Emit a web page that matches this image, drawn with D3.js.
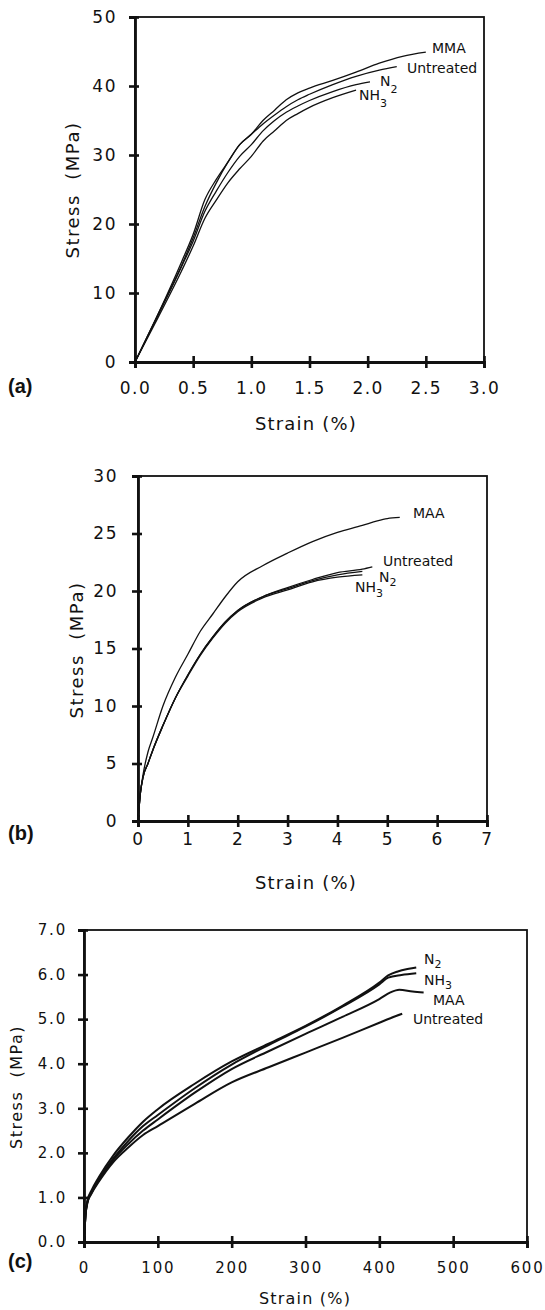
<!DOCTYPE html>
<html lang="en">
<head>
<meta charset="utf-8">
<title>Stress-strain curves</title>
<script src="https://cdn.jsdelivr.net/npm/d3@7/dist/d3.min.js"></script>
<style>
  body { margin: 0; background: #fff; }
  text { font-family: "DejaVu Sans", sans-serif; fill: #111; }
  .lbl { font-size: 14px; }
</style>
</head>
<body>
<script>
// ---- panel (a) ----
var aXTicks = [0, 0.5, 1.0, 1.5, 2.0, 2.5, 3.0];
var aYTicks = [0, 10, 20, 30, 40, 50];
var aMMA = [[0,0],[0.2,7],[0.4,14.5],[0.5,18.5],[0.6,23.5],[0.7,26.5],[0.8,29],[0.9,31.5],[1.0,33],[1.1,35],[1.2,36.5],[1.3,38],[1.4,39],[1.5,39.7],[1.7,40.8],[1.9,42],[2.1,43.3],[2.3,44.3],[2.5,44.9]];
var aUntreated = [[0,0],[0.2,7],[0.4,14],[0.5,18],[0.6,22.5],[0.7,26],[0.8,29],[0.9,31.5],[1.0,33],[1.1,34.5],[1.2,35.8],[1.3,37],[1.4,38],[1.5,38.8],[1.7,40.2],[1.9,41.4],[2.1,42.3],[2.25,42.8]];
var aN2 = [[0,0],[0.2,6.8],[0.4,13.8],[0.5,17.5],[0.6,21.8],[0.7,24.8],[0.8,27.5],[0.9,29.8],[1.0,31.5],[1.1,33.5],[1.2,35],[1.3,36.2],[1.4,37.1],[1.5,37.9],[1.7,39.2],[1.9,40.2],[2.02,40.6]];
var aNH3 = [[0,0],[0.2,6.5],[0.4,13.2],[0.5,16.8],[0.6,20.8],[0.7,23.5],[0.8,26],[0.9,28],[1.0,29.8],[1.1,32],[1.2,33.5],[1.3,35],[1.4,36],[1.5,36.9],[1.7,38.3],[1.9,39.4]];

// ---- panel (b) ----
var bXTicks = [0, 1, 2, 3, 4, 5, 6, 7];
var bYTicks = [0, 5, 10, 15, 20, 25, 30];
var bMAA = [[0,0],[0.05,2.5],[0.1,4],[0.2,6],[0.3,7.3],[0.5,10],[0.75,12.5],[1,14.5],[1.25,16.5],[1.5,18],[1.75,19.5],[2,20.8],[2.5,22.2],[3,23.3],[3.5,24.3],[4,25.1],[4.5,25.7],[4.8,26.1],[5,26.3],[5.25,26.4]];
var bUntreated = [[0,0],[0.05,2.5],[0.1,3.8],[0.2,5],[0.3,6.2],[0.5,8.3],[0.75,10.7],[1,12.7],[1.25,14.5],[1.5,16],[1.75,17.3],[2,18.3],[2.5,19.5],[3,20.3],[3.5,21],[4,21.6],[4.5,21.9],[4.7,22.1]];
var bN2 = [[0,0],[0.05,2.5],[0.1,3.8],[0.2,5],[0.3,6.2],[0.5,8.3],[0.75,10.7],[1,12.7],[1.25,14.5],[1.5,16],[1.75,17.3],[2,18.3],[2.5,19.5],[3,20.2],[3.5,20.9],[4,21.4],[4.5,21.7]];
var bNH3 = [[0,0],[0.05,2.5],[0.1,3.8],[0.2,5],[0.3,6.2],[0.5,8.3],[0.75,10.7],[1,12.6],[1.25,14.4],[1.5,15.9],[1.75,17.2],[2,18.2],[2.5,19.4],[3,20.1],[3.5,20.8],[4,21.2],[4.5,21.4]];

// ---- panel (c) ----
var cXTicks = [0, 100, 200, 300, 400, 500, 600];
var cYTicks = [0, 1, 2, 3, 4, 5, 6, 7];
var cN2 = [[0,0],[2,0.6],[5,0.95],[10,1.15],[20,1.45],[40,1.95],[60,2.35],[80,2.7],[100,2.98],[150,3.55],[200,4.05],[250,4.45],[300,4.85],[350,5.3],[400,5.82],[412,5.98],[425,6.07],[440,6.13],[450,6.16]];
var cNH3 = [[0,0],[2,0.6],[5,0.93],[10,1.12],[20,1.4],[40,1.88],[60,2.27],[80,2.6],[100,2.85],[150,3.45],[200,3.98],[250,4.42],[300,4.83],[350,5.28],[400,5.78],[412,5.93],[430,5.99],[450,6.03]];
var cMAA = [[0,0],[2,0.6],[5,0.92],[10,1.1],[20,1.38],[40,1.85],[60,2.2],[80,2.5],[100,2.75],[150,3.35],[200,3.88],[250,4.28],[300,4.67],[350,5.05],[400,5.45],[415,5.6],[427,5.66],[445,5.62],[460,5.6]];
var cUntreated = [[0,0],[2,0.6],[5,0.9],[10,1.08],[20,1.35],[40,1.8],[60,2.12],[80,2.4],[100,2.6],[150,3.1],[200,3.58],[250,3.92],[300,4.25],[350,4.58],[400,4.92],[415,5.02],[431,5.12]];

var svg = d3.select("body").append("svg")
  .attr("width", 545)
  .attr("height", 1310);

function panel(p) {
  var x = d3.scaleLinear().domain(p.xDom).range([p.left, p.right]);
  var y = d3.scaleLinear().domain(p.yDom).range([p.bottom, p.top]);
  var g = svg.append("g");

  // thin frame, heavier axes drawn on top
  g.append("rect")
    .attr("x", p.left).attr("y", p.top)
    .attr("width", p.right - p.left).attr("height", p.bottom - p.top)
    .attr("fill", "none").attr("stroke", "#111").attr("stroke-width", 1.8);

  var xa = g.append("g")
    .attr("transform", "translate(0," + p.bottom + ")")
    .call(d3.axisBottom(x).tickValues(p.xTicks).tickFormat(d3.format(p.xFmt)).tickSize(6).tickPadding(p.xPad));
  var ya = g.append("g")
    .attr("transform", "translate(" + p.left + ",0)")
    .call(d3.axisLeft(y).tickValues(p.yTicks).tickFormat(d3.format(p.yFmt)).tickSize(6).tickPadding(p.yPad));

  [xa, ya].forEach(function(a) {
    a.select(".domain").attr("stroke", "#111").attr("stroke-width", 2.8);
    a.selectAll(".tick line").attr("stroke", "#111").attr("stroke-width", 2.6);
    a.selectAll(".tick text")
      .attr("font-family", "DejaVu Sans")
      .attr("font-size", p.tickFont)
      .attr("fill", "#111")
      .style("letter-spacing", p.tickSpacing + "px");
  });
  xa.selectAll(".tick line").attr("y1", -6);
  ya.selectAll(".tick line").attr("x1", 4);

  var line = d3.line()
    .x(function(d) { return x(d[0]); })
    .y(function(d) { return y(d[1]); })
    .curve(d3.curveMonotoneX);

  p.series.forEach(function(s) {
    g.append("path")
      .datum(s)
      .attr("d", line)
      .attr("fill", "none")
      .attr("stroke", "#111")
      .attr("stroke-width", p.lineW);
  });

  g.append("text")
    .attr("x", p.xTitleX).attr("y", p.xTitleY)
    .attr("text-anchor", "middle")
    .attr("font-size", p.titleFont)
    .style("letter-spacing", "1.2px")
    .text("Strain (%)");

  g.append("text")
    .attr("transform", "translate(" + p.yTitleX + "," + p.yTitleY + ") rotate(-90)")
    .attr("text-anchor", "middle")
    .attr("font-size", p.titleFont)
    .style("letter-spacing", "1.5px")
    .style("white-space", "pre")
    .text("Stress  (MPa)");

  g.append("text")
    .attr("x", 8).attr("y", p.tagY)
    .attr("font-weight", "bold")
    .attr("font-size", 20)
    .style("font-family", "'Liberation Sans', Arial, sans-serif")
    .text(p.tag);

  p.labels.forEach(function(l) {
    var t = g.append("text")
      .attr("class", "lbl")
      .attr("x", l.x).attr("y", l.y);
    t.append("tspan").text(l.text);
    if (l.sub) {
      t.append("tspan").attr("dy", l.subDy).attr("font-size", 11).text(l.sub);
    }
  });
}

panel({
  xDom: [0, 3], yDom: [0, 50], left: 135, right: 484, top: 17, bottom: 362,
  xTicks: aXTicks, yTicks: aYTicks, xFmt: ".1f", yFmt: "d",
  xPad: 14, yPad: 12, tickFont: 17, tickSpacing: 1.5, titleFont: 18, lineW: 1.3,
  xTitleX: 306, xTitleY: 430, yTitleX: 79, yTitleY: 190, tag: "(a)", tagY: 393,
  series: [aMMA, aUntreated, aN2, aNH3],
  labels: [
    { text: "MMA", x: 432, y: 53 },
    { text: "Untreated", x: 407, y: 73 },
    { text: "N", sub: "2", subDy: 7, x: 380, y: 86 },
    { text: "NH", sub: "3", subDy: 7, x: 359, y: 100 }
  ]
});

panel({
  xDom: [0, 7], yDom: [0, 30], left: 138, right: 487, top: 476, bottom: 821,
  xTicks: bXTicks, yTicks: bYTicks, xFmt: "d", yFmt: "d",
  xPad: 6, yPad: 14, tickFont: 17, tickSpacing: 1.5, titleFont: 18, lineW: 1.3,
  xTitleX: 306, xTitleY: 889, yTitleX: 83, yTitleY: 650, tag: "(b)", tagY: 840,
  series: [bMAA, bUntreated, bN2, bNH3],
  labels: [
    { text: "MAA", x: 413, y: 518 },
    { text: "Untreated", x: 383, y: 566 },
    { text: "N", sub: "2", subDy: 4, x: 379, y: 582 },
    { text: "NH", sub: "3", subDy: 5, x: 355, y: 592 }
  ]
});

panel({
  xDom: [0, 600], yDom: [0, 7], left: 84, right: 527, top: 930, bottom: 1242,
  xTicks: cXTicks, yTicks: cYTicks, xFmt: "d", yFmt: ".1f",
  xPad: 14, yPad: 11, tickFont: 15, tickSpacing: 1.8, titleFont: 16, lineW: 2.0,
  xTitleX: 305, xTitleY: 1304, yTitleX: 22, yTitleY: 1087, tag: "(c)", tagY: 1268,
  series: [cN2, cNH3, cMAA, cUntreated],
  labels: [
    { text: "N", sub: "2", subDy: 4, x: 424, y: 964 },
    { text: "NH", sub: "3", subDy: 4, x: 424, y: 985 },
    { text: "MAA", x: 433, y: 1005 },
    { text: "Untreated", x: 413, y: 1024 }
  ]
});
</script>
</body>
</html>
